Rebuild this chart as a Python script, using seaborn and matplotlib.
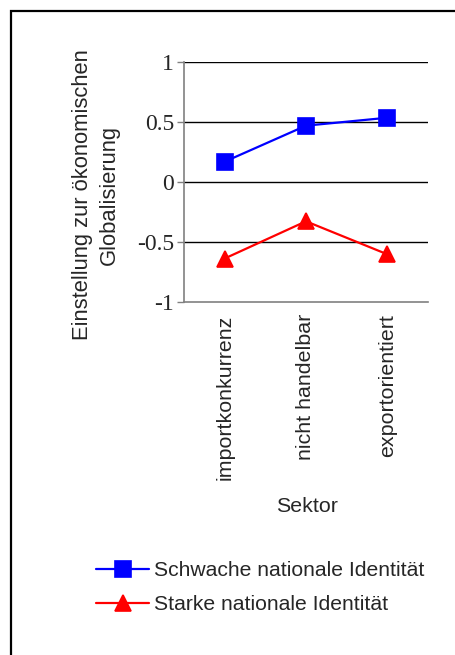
import matplotlib
matplotlib.use("Agg")
import matplotlib.pyplot as plt
from matplotlib.patches import Rectangle
import seaborn as sns
import pandas as pd

# Data
sektoren = ["importkonkurrenz", "nicht handelbar", "exportorientiert"]
schwach = [0.167, 0.467, 0.533]
stark = [-0.64, -0.33, -0.605]
gruppen = ["Schwache nationale Identität", "Starke nationale Identität"]
y_ticks = [-1, -0.5, 0, 0.5, 1]
y_ticklabels = ["-1", "-0.5", "0", "0.5", "1"]

df = pd.DataFrame({
    "Sektor": sektoren * 2,
    "Wert": schwach + stark,
    "Gruppe": [gruppen[0]] * 3 + [gruppen[1]] * 3,
})

sns.set_style("white")
plt.rcParams["font.family"] = ["Liberation Sans", "DejaVu Sans"]

W, H = 456, 655
fig = plt.figure(figsize=(W / 100, H / 100), dpi=100)
ax = fig.add_axes([184 / W, 1 - 301.7 / H, 244 / W, 240 / H])

# Horizontal gridlines behind the series
for v in [-0.5, 0, 0.5, 1]:
    ax.axhline(v, color="black", lw=1.0, zorder=0)

sns.pointplot(
    data=df, x="Sektor", y="Wert", hue="Gruppe",
    order=sektoren, hue_order=gruppen,
    palette=["#0000FF", "#FF0000"], markers=["s", "^"],
    linestyles=["-", "-"], errorbar=None, dodge=False,
    markersize=11, linewidth=1.6, ax=ax,
)

ax.set_xlim(-0.5, 2.5)
ax.set_ylim(-1, 1)
ax.set_yticks(y_ticks)
ax.set_yticklabels(y_ticklabels, family="Liberation Serif", fontsize=17)
ax.set_xticks(range(len(sektoren)))
ax.set_xticklabels(sektoren, rotation=90, fontsize=15.4, va="top")
ax.set_xticks([-0.5, 0.5, 1.5, 2.5], minor=True)
ax.tick_params(axis="x", which="major", length=0, pad=9)
ax.tick_params(axis="x", which="minor", length=5, width=1, color="#808080", direction="out")
ax.tick_params(axis="y", length=5, width=1, color="#808080", direction="out", pad=2, left=True)
ax.set_xlabel("")
ax.set_ylabel("")

for side in ["top", "right"]:
    ax.spines[side].set_visible(False)
for side in ["left", "bottom"]:
    ax.spines[side].set_color("#808080")
    ax.spines[side].set_linewidth(1.2)

handles, labels = ax.get_legend_handles_labels()
ax.get_legend().remove()

fig.text(96 / W, 1 - 195 / H, "Einstellung zur ökonomischen\nGlobalisierung",
         rotation=90, ha="center", va="center", fontsize=15.8, linespacing=1.4)
fig.text(307 / W, 1 - 506 / H, "Sektor", ha="center", va="center", fontsize=15.4)

fig.legend(handles, labels, loc="upper left", bbox_to_anchor=(88 / W, 1 - 553 / H),
           frameon=False, fontsize=15.2, handlelength=2.5, handletextpad=0.25,
           labelspacing=0.7, borderaxespad=0)

# Frame around the figure
fig.patches.append(Rectangle((11 / W, -0.1), 1.2, 1.1 - 11 / H, transform=fig.transFigure,
                             fill=False, edgecolor="black", lw=1.6))

fig.savefig("out.png", dpi=100)
